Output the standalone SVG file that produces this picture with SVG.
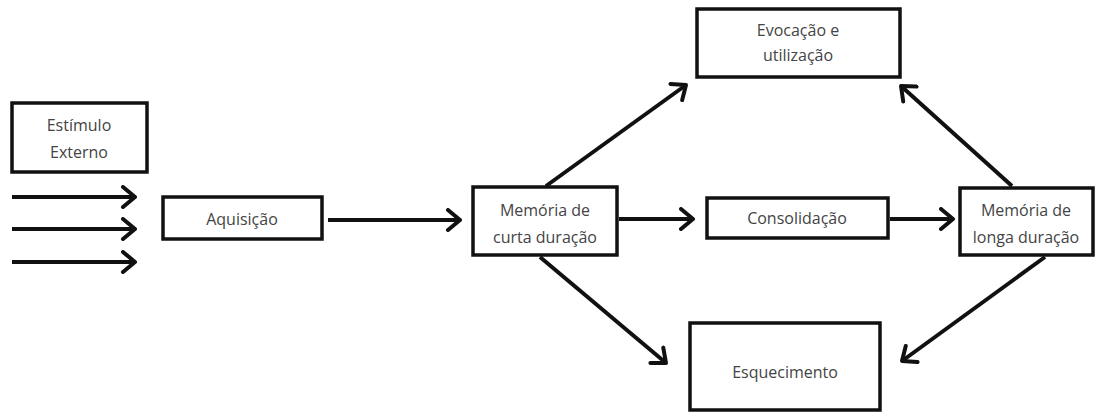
<svg xmlns="http://www.w3.org/2000/svg" width="1100" height="416" viewBox="0 0 1100 416">
<defs>
<style>
.box{fill:#fff;stroke:#111;stroke-width:3.5}
.lbl{font-family:"Open Sans","Liberation Sans",sans-serif;font-size:16px;fill:#444;text-anchor:middle}
.con{stroke:#111;stroke-width:4;fill:none;marker-end:url(#ah)}
</style>
<marker id="ah" markerUnits="userSpaceOnUse" viewBox="-16 -12 20 24" refX="0" refY="0" markerWidth="20" markerHeight="24" orient="auto">
<polyline points="-12,-10 0,0 -12,10" fill="none" stroke="#111" stroke-width="4" stroke-linecap="round" stroke-linejoin="round"/>
</marker>
</defs>
<rect width="1100" height="416" fill="#fff"/>
<g id="connectors">
<line class="con" x1="12" y1="197" x2="135" y2="197"/>
<line class="con" x1="12" y1="229" x2="135" y2="229"/>
<line class="con" x1="12" y1="262" x2="135" y2="262"/>
<line class="con" x1="328" y1="220" x2="460" y2="220"/>
<line class="con" x1="619" y1="219" x2="693" y2="219"/>
<line class="con" x1="890" y1="219" x2="953" y2="219"/>
<line class="con" x1="546" y1="186" x2="686" y2="85"/>
<line class="con" x1="1012" y1="186" x2="901" y2="86"/>
<line class="con" x1="540" y1="257" x2="666" y2="363"/>
<line class="con" x1="1045" y1="257" x2="902" y2="361"/>
</g>
<g id="estimulo">
<rect class="box" x="12" y="103" width="135" height="69"/>
<text class="lbl" x="79" y="131">Estímulo</text>
<text class="lbl" x="79" y="158">Externo</text>
</g>
<g id="aquisicao">
<rect class="box" x="163" y="197" width="159" height="42"/>
<text class="lbl" x="242" y="225">Aquisição</text>
</g>
<g id="memoria-curta">
<rect class="box" x="473" y="187" width="144" height="68"/>
<text class="lbl" x="545" y="216">Memória de</text>
<text class="lbl" x="545" y="243">curta duração</text>
</g>
<g id="consolidacao">
<rect class="box" x="707" y="198" width="181" height="40"/>
<text class="lbl" x="797" y="224">Consolidação</text>
</g>
<g id="memoria-longa">
<rect class="box" x="960" y="188" width="133" height="67"/>
<text class="lbl" x="1026" y="216">Memória de</text>
<text class="lbl" x="1026" y="243">longa duração</text>
</g>
<g id="evocacao">
<rect class="box" x="697" y="9" width="203" height="68"/>
<text class="lbl" x="798" y="36">Evocação e</text>
<text class="lbl" x="798" y="61">utilização</text>
</g>
<g id="esquecimento">
<rect class="box" x="690" y="323" width="190" height="87"/>
<text class="lbl" x="785" y="378">Esquecimento</text>
</g>
</svg>
